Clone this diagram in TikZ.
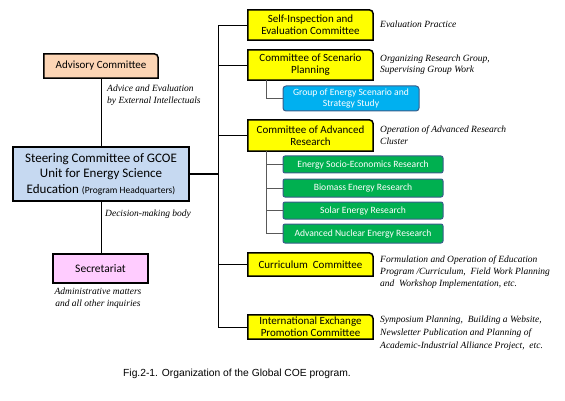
\documentclass[tikz,border=0pt]{standalone}
\usepackage{fontspec}
\setmainfont{Carlito}
\newfontfamily\serifit{Liberation Serif}
\newfontfamily\capfont{Liberation Sans}
\usetikzlibrary{backgrounds}
\definecolor{yel}{HTML}{FFFF00}
\definecolor{steerc}{HTML}{C6D9F1}
\definecolor{advc}{HTML}{FCD5B5}
\definecolor{secc}{HTML}{FFCCFF}
\definecolor{grpc}{HTML}{00B0F0}
\definecolor{grnc}{HTML}{00B050}
\definecolor{bordc}{HTML}{385D8A}
\newcommand\trshape[2]{%
  \filldraw[fill=#2, draw=black, line width=1.5pt]
    (#1.north) [rounded corners=4pt] -- (#1.north east) -- (#1.east)
    [sharp corners] -- (#1.south east) -- (#1.south west) -- (#1.north west) -- cycle;}
\begin{document}
\begin{tikzpicture}[x=1pt,y=-1pt,
  ybox/.style={minimum width=125pt, minimum height=30pt, inner sep=1pt, align=center,
     font=\fontsize{11}{12}\selectfont},
  gbox/.style={minimum width=160pt, inner sep=0pt, align=center, fill=grnc, draw=bordc,
     line width=1pt, rounded corners=2pt, text=white, font=\fontsize{9.6}{10.5}\selectfont},
  lab/.style={anchor=west, align=left, inner sep=0pt, font=\serifit\itshape\fontsize{9.5}{12}\selectfont},
  conn/.style={draw=black, line width=0.8pt},
  subconn/.style={draw=black!65, line width=1pt}]
\useasboundingbox (0,0) rectangle (565,401);

% left column
\node[minimum width=114pt, minimum height=24pt, inner sep=0pt, font=\fontsize{11}{13}\selectfont] (adv) at (101,66) {Advisory Committee};
\node[minimum width=176pt, minimum height=54pt, inner sep=0pt, align=center, fill=steerc, draw=black, line width=1.5pt,
  font=\fontsize{13}{15.5}\selectfont] (steer) at (101,174)
  {Steering Committee of GCOE\\Unit for Energy Science\\Education {\fontsize{9.5}{10}\selectfont(Program Headquarters)}};
\node[minimum width=95pt, minimum height=29pt, inner sep=0pt, fill=secc, draw=black, line width=1.5pt,
  font=\fontsize{11.5}{12}\selectfont] (sec) at (100.5,268.5) {Secretariat};

\node[lab] (ladv) at (107,95) {Advice and Evaluation\\by External Intellectuals};
\node[lab] (ldec) at (105,214) {Decision-making body};
\node[lab, anchor=center, align=center] (lsec) at (98,298.5) {Administrative matters\\and all other inquiries};

% right column committees
\node[ybox] (self) at (310.5,25) {Self-Inspection and\\Evaluation Committee};
\node[ybox] (scen) at (310.5,65) {Committee of Scenario\\Planning};
\node[ybox, minimum height=31pt] (adr) at (310.5,135.5) {Committee of Advanced\\Research};
\node[ybox, minimum height=23pt] (cur) at (310.5,264.5) {Curriculum\ \ Committee};
\node[ybox, minimum height=24pt] (intl) at (310.5,327) {International Exchange\\Promotion Committee};

\node[minimum width=136pt, minimum height=25pt, inner sep=0pt, align=center, fill=grpc, draw=bordc, line width=1pt,
  rounded corners=3pt, text=white, font=\fontsize{9.6}{11}\selectfont] (grp) at (351,98.5)
  {Group of Energy Scenario and\\Strategy Study};

\node[gbox, minimum height=17pt] (g1) at (363,164.5) {Energy Socio-Economics Research};
\node[gbox, minimum height=18pt] (g2) at (363,188) {Biomass Energy Research};
\node[gbox, minimum height=17pt] (g3) at (363,210.5) {Solar Energy Research};
\node[gbox, minimum height=19pt] (g4) at (363,233.5) {Advanced Nuclear Energy Research};

% labels right
\node[lab] (lself) at (380,24) {Evaluation Practice};
\node[lab, font=\serifit\itshape\fontsize{9.5}{11.5}\selectfont] (lscen) at (380,64.5) {Organizing Research Group,\\Supervising Group Work};
\node[lab] (ladr) at (380,135) {Operation of Advanced Research\\Cluster};
\node[lab] (lcur) at (380,272) {Formulation and Operation of Education\\Program /Curriculum,\ \ Field Work Planning\\and\ \ Workshop Implementation, etc.};
\node[lab, font=\serifit\itshape\fontsize{9.5}{13}\selectfont] (lintl) at (380,333) {Symposium Planning,\ \ Building a Website,\\Newsletter Publication and Planning of\\Academic-Industrial Alliance Project,\ \ etc.};

% caption
\node[font=\capfont\fontsize{10.3}{12}\selectfont, inner sep=0pt] (cap) at (237,374) {Fig.2-1. Organization of the Global COE program.};

% coordinates
\coordinate (tr) at (218,0);
\coordinate (sx) at (266,0);

% connectors
\draw[conn] (adv.south) -- (adv.south |- steer.north);
\draw[conn] (steer.south) -- (steer.south |- sec.north);
\draw[line width=2pt] (steer.east) -- (steer.east -| tr);
\draw[conn] (self.west) -- (self.west -| tr) -- (intl.west -| tr) -- (intl.west);
\draw[conn] (scen.west) -- (scen.west -| tr);
\draw[conn] (adr.west) -- (adr.west -| tr);
\draw[conn] (cur.west) -- (cur.west -| tr);
\draw[subconn] (scen.south -| sx) |- (grp.west);
\draw[subconn] (adr.south -| sx) |- (g4.west);
\draw[subconn] (g1.west) -- (g1.west -| sx);
\draw[subconn] (g2.west) -- (g2.west -| sx);
\draw[subconn] (g3.west) -- (g3.west -| sx);

\begin{scope}[on background layer]
\trshape{adv}{advc}
\trshape{self}{yel}
\trshape{scen}{yel}
\trshape{adr}{yel}
\trshape{cur}{yel}
\trshape{intl}{yel}
\end{scope}
\end{tikzpicture}
\end{document}
